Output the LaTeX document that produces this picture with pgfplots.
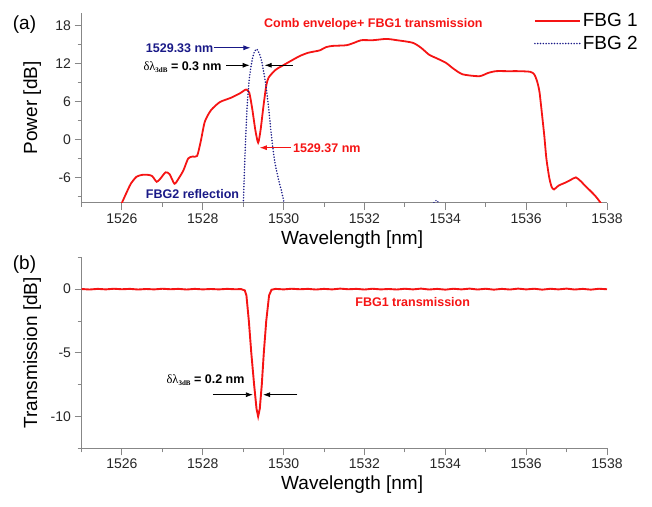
\documentclass[border=0pt]{standalone}
\usepackage{pgfplots}
\pgfplotsset{compat=1.18}
\usepackage{fontspec}
\setmainfont{Liberation Sans}
\newfontfamily\grserif{Liberation Serif}
\usetikzlibrary{arrows.meta}

\definecolor{fbgred}{RGB}{245,20,20}
\definecolor{fbgblue}{RGB}{25,25,135}
\definecolor{axgray}{RGB}{135,135,135}

\pgfplotsset{
  panel/.style={
    scale only axis,
    width=525.5pt,
    xmin=1525, xmax=1538,
    xtick={1526,1528,...,1538},
    minor xtick={1525,1527,...,1537},
    axis x line*=bottom, axis y line*=left,
    axis line style={axgray, line width=0.9pt, -},
    tick style={axgray, line width=0.9pt},
    tick align=outside,
    major tick length=7pt, minor tick length=4pt,
    ticklabel style={font=\fontsize{14}{16}\selectfont, text=black!85},
    label style={font=\fontsize{19}{22}\selectfont},
    xlabel={Wavelength [nm]},
    /pgf/number format/assume math mode=true,
    /pgf/number format/1000 sep={},
  },
}
\tikzset{
  ann/.style={font=\fontsize{12.5}{14}\selectfont\bfseries, anchor=west, inner sep=0pt},
  dots/.style={line cap=round, dash pattern=on 0pt off 2.8pt},
}
\newcommand{\dlam}{{\grserif\mdseries δλ\raisebox{-0.35ex}{\fontsize{7}{8}\selectfont\bfseries 3dB}}}

\begin{document}
\begin{tikzpicture}
\path[use as bounding box] (0,0) rectangle (652pt,506pt);

% (a) comb envelope + FBG1 transmission, FBG2 reflection
\begin{axis}[
  panel,
  at={(81.5pt,303.3pt)}, anchor=south west,
  height=189.7pt,
  ymin=-10, ymax=20,
  ytick={-6,0,...,18},
  minor ytick={-9,-3,3,9,15},
  ylabel={Power [dB]},
  ylabel style={at={(axis description cs:-0.094,0.5)}, anchor=center},
  xlabel style={at={(axis description cs:0.515,-0.197)}, anchor=center},
  legend style={draw=none, fill=none, at={(0.855,1.02)}, anchor=north west,
    font=\fontsize{19}{22}\selectfont, row sep=4pt},
  legend cell align=left,
  legend image code/.code={\draw[#1] (0pt,0pt) -- (45pt,0pt);},
]
\addplot[fbgred, line width=1.8pt, smooth, tension=0.4] coordinates {
  (1525.98,-10.3) (1526.10,-8.6) (1526.22,-7.0) (1526.36,-5.9) (1526.50,-5.6)
  (1526.65,-5.6) (1526.75,-5.8) (1526.86,-6.7) (1526.95,-6.2) (1527.08,-5.2)
  (1527.18,-5.5) (1527.30,-7.0) (1527.40,-6.2) (1527.52,-4.9) (1527.64,-3.0)
  (1527.75,-2.7) (1527.86,-2.6) (1527.95,-0.3) (1528.05,2.8) (1528.20,4.6)
  (1528.42,5.9) (1528.70,6.6) (1528.92,7.3) (1529.07,7.9) (1529.15,7.4)
  (1529.22,5.0) (1529.30,1.5) (1529.37,-0.5) (1529.43,1.5) (1529.50,5.2)
  (1529.57,8.5) (1529.63,9.8) (1529.80,11.0) (1529.98,11.7) (1530.20,12.5)
  (1530.40,13.2) (1530.60,13.7) (1530.75,13.9) (1530.90,14.1) (1531.05,14.6)
  (1531.22,14.8) (1531.55,14.9) (1531.75,15.3) (1531.92,15.7) (1532.21,15.7)
  (1532.54,15.9) (1532.80,15.7) (1533.19,15.3) (1533.40,14.5) (1533.60,13.4)
  (1533.80,12.8) (1534.02,12.1) (1534.20,11.2) (1534.43,10.3) (1534.84,10.0)
  (1535.05,10.5) (1535.25,10.8) (1535.55,10.8) (1535.83,10.8) (1536.10,10.7)
  (1536.20,10.3) (1536.27,9.2) (1536.33,7.5) (1536.40,3.5) (1536.45,0.5)
  (1536.50,-3.0) (1536.57,-6.0) (1536.63,-7.5) (1536.69,-7.9) (1536.80,-7.3)
  (1536.98,-6.8) (1537.10,-6.4) (1537.23,-6.0) (1537.35,-6.6) (1537.47,-7.4)
  (1537.60,-8.2) (1537.72,-9.0) (1537.84,-10.0) (1537.88,-10.5)
};
\addlegendentry{FBG 1}
\addplot[fbgblue, line width=1.7pt, dots, smooth, tension=0.4] coordinates {
  (1529.00,-11) (1529.03,-5) (1529.06,0) (1529.10,5.5) (1529.15,9.5)
  (1529.20,11.8) (1529.26,13.6) (1529.33,14.3) (1529.40,13.6) (1529.47,12.0)
  (1529.55,9.0) (1529.62,5.5) (1529.70,0.5) (1529.78,-3.5) (1529.88,-6.5)
  (1529.96,-8.5) (1530.03,-10.5)
};
\addlegendentry{FBG 2}
\addplot[fbgblue, line width=1.5pt, dots, forget plot] coordinates {
  (1533.72,-10) (1533.78,-9.6) (1533.84,-10)
};

\node[ann, anchor=center, text=fbgred] at (axis cs:1532.22,18.2) {Comb envelope+ FBG1 transmission};
\node[ann, text=fbgblue] at (axis cs:1526.59,14.37) {1529.33 nm};
\draw[fbgblue, line width=0.8pt, -{Latex[length=7pt,width=5pt]}] (axis cs:1528.27,14.5) -- (axis cs:1529.18,14.5);
\node[ann] at (axis cs:1526.53,11.5) {\dlam{} = 0.3 nm};
\draw[black, line width=0.8pt, -{Latex[length=7pt,width=5pt]}] (axis cs:1528.58,11.73) -- (axis cs:1529.16,11.73);
\draw[black, line width=0.8pt, -{Latex[length=7pt,width=5pt]}] (axis cs:1530.23,11.73) -- (axis cs:1529.53,11.73);
\node[ann, text=fbgred] at (axis cs:1530.23,-1.42) {1529.37 nm};
\draw[fbgred, line width=0.8pt, -{Latex[length=7pt,width=5pt]}] (axis cs:1530.18,-1.3) -- (axis cs:1529.41,-1.3);
\node[ann, text=fbgblue] at (axis cs:1526.59,-8.68) {FBG2 reflection};
\end{axis}

% (b) FBG1 transmission
\begin{axis}[
  panel,
  at={(81.5pt,57.7pt)}, anchor=south west,
  height=191pt,
  ymin=-12.5, ymax=2.5,
  ytick={-10,-5,0},
  minor ytick={-12.5,-7.5,-2.5,2.5},
  ylabel={Transmission [dB]},
  ylabel style={at={(axis description cs:-0.094,0.5)}, anchor=center},
  xlabel style={at={(axis description cs:0.515,-0.192)}, anchor=center},
]
\addplot[fbgred, line width=1.9pt] coordinates {
  (1525.0,0.01) (1525.2,-0.03) (1525.4,0.02) (1525.6,-0.02) (1525.8,0.03)
  (1526.0,-0.01) (1526.2,0.02) (1526.4,-0.03) (1526.6,0.01) (1526.8,-0.02)
  (1527.0,0.03) (1527.2,-0.01) (1527.4,0.02) (1527.6,-0.03) (1527.8,0.02)
  (1528.0,-0.02) (1528.2,0.01) (1528.4,-0.02) (1528.6,0.02) (1528.8,-0.01)
  (1528.95,0.0) (1529.04,-0.1) (1529.08,-0.5) (1529.14,-2.5) (1529.20,-5.0)
  (1529.27,-7.5) (1529.33,-9.4) (1529.37,-10.0) (1529.41,-9.4) (1529.46,-7.5)
  (1529.51,-5.0) (1529.57,-2.5) (1529.64,-0.5) (1529.70,-0.05) (1529.80,0.02)
  (1530.0,-0.02) (1530.2,0.03) (1530.4,-0.01) (1530.6,0.02) (1530.8,-0.03)
  (1531.0,0.02) (1531.2,-0.02) (1531.4,0.04) (1531.6,-0.01) (1531.8,0.02)
  (1532.0,-0.03) (1532.2,0.03) (1532.4,-0.02) (1532.6,0.01) (1532.8,-0.03)
  (1533.0,0.03) (1533.2,-0.02) (1533.4,0.04) (1533.6,-0.03) (1533.8,0.02)
  (1534.0,-0.04) (1534.2,0.03) (1534.4,-0.02) (1534.6,0.04) (1534.8,-0.03)
  (1535.0,0.03) (1535.2,-0.04) (1535.4,0.02) (1535.6,-0.03) (1535.8,0.04)
  (1536.0,-0.02) (1536.2,0.03) (1536.4,-0.04) (1536.6,0.03) (1536.8,-0.02)
  (1537.0,0.04) (1537.2,-0.03) (1537.4,0.02) (1537.6,-0.04) (1537.8,0.03)
  (1538.0,-0.01)
};
\node[ann, text=fbgred] at (axis cs:1531.77,-0.98) {FBG1 transmission};
\node[ann] at (axis cs:1527.10,-7.16) {\dlam{} = 0.2 nm};
\draw[black, line width=0.8pt, -{Latex[length=7pt,width=5pt]}] (axis cs:1528.25,-8.29) -- (axis cs:1529.24,-8.29);
\draw[black, line width=0.8pt, -{Latex[length=7pt,width=5pt]}] (axis cs:1530.34,-8.29) -- (axis cs:1529.49,-8.29);
\end{axis}

\node[font=\fontsize{19}{22}\selectfont] at (24.5pt,481pt) {(a)};
\node[font=\fontsize{19}{22}\selectfont] at (24.5pt,241pt) {(b)};
\end{tikzpicture}
\end{document}
